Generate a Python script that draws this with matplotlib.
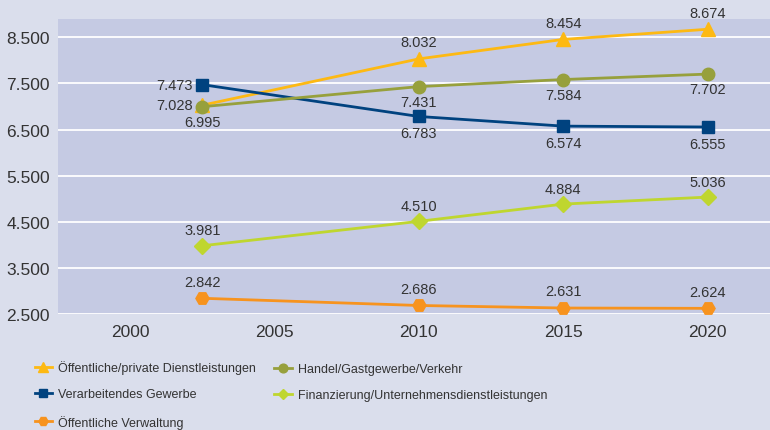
import matplotlib
matplotlib.use("Agg")
import matplotlib.pyplot as plt

# Daten (Beschäftigte in Tsd.)
jahre = [2002.5, 2010, 2015, 2020]
dienstleistungen = [7028, 8032, 8454, 8674]
handel = [6995, 7431, 7584, 7702]
gewerbe = [7473, 6783, 6574, 6555]
finanzierung = [3981, 4510, 4884, 5036]
verwaltung = [2842, 2686, 2631, 2624]

x_ticks = [2000, 2005, 2010, 2015, 2020]
y_ticks = [2500, 3500, 4500, 5500, 6500, 7500, 8500]

plt.rcParams['font.family'] = ['Liberation Sans', 'DejaVu Sans']

fig = plt.figure(figsize=(7.7, 4.31), dpi=100)
fig.patch.set_facecolor('#dadeec')
ax = fig.add_axes([0.0753, 0.269, 0.93, 0.685])
ax.set_facecolor('#c5cae3')
for s in ax.spines.values():
    s.set_visible(False)

serien = [
    ("Öffentliche/private Dienstleistungen", dienstleistungen, '#fdb913', '^', 9.5),
    ("Verarbeitendes Gewerbe", gewerbe, '#00427f', 's', 8.5),
    ("Öffentliche Verwaltung", verwaltung, '#f7931e', 'H', 9.5),
    ("Handel/Gastgewerbe/Verkehr", handel, '#97a03c', 'o', 9),
    ("Finanzierung/Unternehmensdienstleistungen", finanzierung, '#bfd62f', 'D', 8),
]

linien = []
for name, werte, farbe, marker, ms in serien:
    l, = ax.plot(jahre, werte, color=farbe, lw=2, marker=marker, ms=ms,
                 label=name, zorder=3)
    linien.append(l)

def fmt(v):
    return f"{v:,}".replace(",", ".")

txt = dict(fontsize=10.5, color='#333333', zorder=4)
# Beschriftungen
for i, (x, v) in enumerate(zip(jahre, dienstleistungen)):
    if i == 0:
        ax.annotate(fmt(v), (x, v), xytext=(-7, 0), textcoords='offset points',
                    ha='right', va='center', **txt)
    else:
        ax.annotate(fmt(v), (x, v), xytext=(0, 7), textcoords='offset points',
                    ha='center', va='bottom', **txt)
for i, (x, v) in enumerate(zip(jahre, gewerbe)):
    if i == 0:
        ax.annotate(fmt(v), (x, v), xytext=(-7, 0), textcoords='offset points',
                    ha='right', va='center', **txt)
    else:
        ax.annotate(fmt(v), (x, v), xytext=(0, -7), textcoords='offset points',
                    ha='center', va='top', **txt)
for x, v in zip(jahre, handel):
    ax.annotate(fmt(v), (x, v), xytext=(0, -6), textcoords='offset points',
                ha='center', va='top', **txt)
for x, v in zip(jahre, finanzierung):
    ax.annotate(fmt(v), (x, v), xytext=(0, 6), textcoords='offset points',
                ha='center', va='bottom', **txt)
for x, v in zip(jahre, verwaltung):
    ax.annotate(fmt(v), (x, v), xytext=(0, 7), textcoords='offset points',
                ha='center', va='bottom', **txt)

ax.set_xlim(1997.5, 2022.3)
ax.set_ylim(2560, 8900)
ax.set_xticks(x_ticks)
ax.set_yticks(y_ticks)
ax.set_yticklabels([fmt(v) for v in y_ticks])
ax.yaxis.grid(True, color='white', lw=1.3)
ax.set_axisbelow(True)
ax.tick_params(length=0, labelsize=12.5, colors='#333333')
ax.tick_params(axis='x', pad=7)
ax.tick_params(axis='y', pad=6)

# Legende in zwei Spalten
leg_opts = dict(loc='upper left', frameon=False, fontsize=9, handlelength=1.4,
                markerscale=0.7, labelspacing=1.15, handletextpad=0.5,
                borderaxespad=0, borderpad=0, labelcolor='#333333')
leg1 = fig.legend(handles=linien[:3], bbox_to_anchor=(0.045, 0.162), **leg_opts)
leg2 = fig.legend(handles=linien[3:], bbox_to_anchor=(0.356, 0.1555), **leg_opts)

fig.savefig('out.png', dpi=100, facecolor=fig.get_facecolor())
